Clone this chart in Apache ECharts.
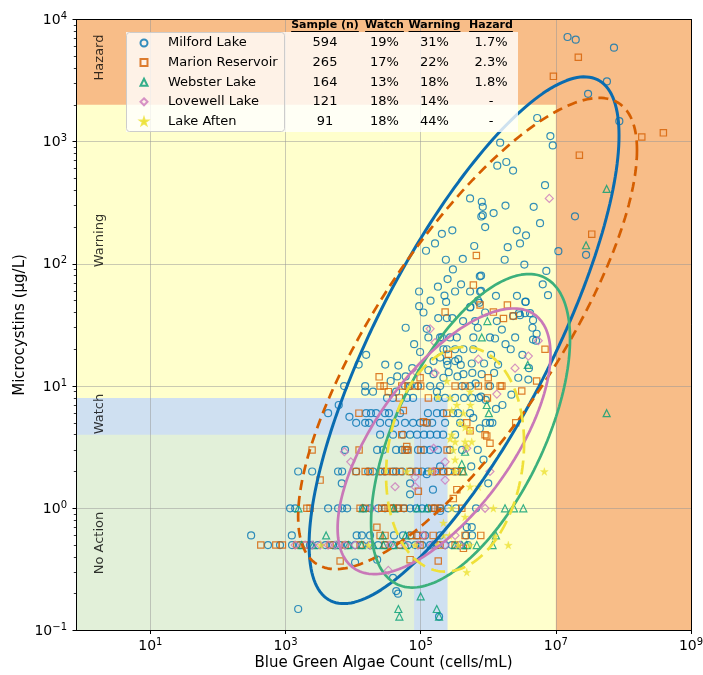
<!DOCTYPE html>
<html>
<head>
<meta charset="utf-8">
<script src="https://cdn.jsdelivr.net/npm/echarts@6/dist/echarts.min.js"></script>
<style>html,body{margin:0;padding:0;background:#fff}#c{width:703px;height:675px}</style>
</head>
<body>
<div id="c"></div>
<script>
// ---------------- DATA ----------------
const seriesNames = ['Milford Lake', 'Marion Reservoir', 'Webster Lake', 'Lovewell Lake', 'Lake Aften'];

// [cells/mL, µg/L]
const milford = [
[550,0.5],[830,0.5],[1250,0.5],[1640,0.5],[2300,0.5],[3000,0.5],[3900,0.5],[5000,0.5],[6400,0.5],[8400,0.5],[10700,0.5],[13600,0.5],[17800,0.5],[23500,0.5],[29700,0.5],[39000,0.5],[49500,0.5],[65000,0.5],[83000,0.5],[105000,0.5],[138000,0.5],[180000,0.5],[230000,0.5],[290000,0.5],[380000,0.5],[500000,0.5],
[310,0.6],[1240,0.6],[11300,0.6],[13500,0.6],[17800,0.6],[40300,0.6],[54800,0.6],[69700,0.6],[88400,0.6],[116000,0.6],[194000,0.6],[470000,0.6],[576000,0.6],
[1170,1],[1390,1],[4270,1],[6000,1],[6880,1],[8160,1],[14100,1],[17800,1],[23500,1],[29700,1],[39000,1],[46300,1],[56700,1],[69700,1],[85500,1],[105000,1],[128000,1],[158000,1],[194000,1],[255000,1],[334000,1],[660000,1],
[1540,2],[2480,2],[6000,2],[6880,2],[11100,2],[16700,2],[19700,2],[25100,2],[29700,2],[39000,2],[43300,2],[53000,2],[69700,2],[85500,2],[105000,2],[128000,2],[163000,2],[215000,2],[255000,2],[323000,2],
[7600,3],[22700,3],[27800,3],[43300,3],[53000,3],[62800,3],[91400,3],[112000,3],[138000,3],[180000,3],[272000,3],[410000,3],
[25100,4],[39000,4],[54800,4],[69700,4],[88400,4],[112000,4],[138000,4],[174000,4],[215000,4],[323000,4],
[11100,5],[15100,5],[17200,5],[25100,5],[34000,5],[41800,5],[58700,5],[77200,5],[98000,5],[124000,5],[148000,5],[230000,5],[383000,5],[1060000,5],
[4270,6],[15600,6],[18400,6],[21900,6],[29700,6],[34000,6],[49500,6],[128000,6],[174000,6],[215000,6],[302000,6],[358000,6],[538000,6],
[31800,8],[39000,8],[62800,8],[77200,8],[180000,8],[230000,8],[323000,8],[439000,8],[576000,8],[731000,8],
[15100,9],[19700,9],[43300,9],[174000,9],
[7370,10],[15100,10],[58700,10],[69700,10],[91400,10],[138000,10],[194000,10],[410000,10],[538000,10],[1060000,10],
[15600,18],[12100,15],[29900,15],[46800,14.7],[130000,25],[206000,25],[272000,25],[343000,25],[244000,20],[323000,20],[98000,19],[155000,16],[244000,16],[323000,16],[429000,12.5],[155000,12.5],[217000,11.7],[538000,44],[738000,48],[3580000,49],[182000,36],[244000,36],[294000,36],[424000,34],[638000,34],[1340000,34],[2850000,39.5],[3500000,39.5],[4150000,39.5],[123000,29.4],[194000,25],[602000,25],[1060000,25],[5200000,26.8],[5100000,23.5],[217000,20],[429000,20],[602000,20],[2150000,20],[194000,17.1],[361000,16.6],[249000,14.9],[392000,14.9],[570000,15.3],[867000,15.3],[581000,12.8],[1220000,12.8],[2780000,11.7],[3920000,11.3],
[1500000,980],[9000000,930],[1360000,636],[1850000,681],[2330000,580],[6920000,440],[538000,343],[802000,322],[830000,293],[790000,244],[4700000,293],[5840000,215],[206000,176],[163000,147],[294000,188],[120000,128],[236000,108],[2640000,188],[3620000,171],[2950000,147],[1940000,137],[1750000,108],[10900000,127],[3420000,98.6],[7230000,87.5],[6400000,68],[7660000,55.4],[94700,59.4],[225000,55],[238000,48.8],[323000,59.4],[396000,68],[538000,59.4],[750000,79],[757000,59.4],[545000,44.4],[1300000,54.7],[2660000,54.7],[3540000,48.8],[706000,50],
[14900000,7180],[19700000,6830],[72500000,5870],[57000000,3110],[30000000,2460],[87000000,1470],[5300000,1560],[8300000,1110],[830000,250],[19200000,245],[28000000,118.5],[783000,80],[783000,60],[2330000,37.4],[2950000,38],[4600000,34.6],[1590000,29],[1260000,24.5],[4600000,24],[920000,7.7],[1620000,7],[1150000,5],[920000,5],[783000,8.2],
[1540,0.15],[46300,0.2],[187000,0.13],[6800,1.6],[10700,0.36],[22700,0.38],[39000,0.27],[43500,0.21],[152000,1.42],[69700,1.3],[69700,1.6],[194000,0.95],[481000,0.7],[570000,0.7],[194000,2.2],[123000,1.9],[6130,7],[8820,5.6],
[60000,30],[80000,22],[75000,14],[110000,40],[95000,45],[140000,50],[180000,65],[250000,75],[300000,90],[420000,110],[620000,140],[900000,200],[1200000,260],[1800000,300],[700000,30],[900000,40],[1100000,18],[1400000,15],[1800000,22],[2500000,25],[3200000,18],[4000000,14],[4500000,30],[350000,12],[650000,10.5],[800000,12.5],[260000,13],[130000,13.5],[60000,12],[45000,12],[36000,11],[2200000,8.5],[1300000,6.5],[600000,5.5],[750000,4.5],[700000,3],[850000,2.5],[560000,2.2],[1000000,1.6]
];

const marion = [
[431,0.5],[719,0.5],[900,0.5],[1470,0.5],[1950,0.5],[4570,0.5],[7620,0.5],[12700,0.5],[29700,0.5],[49500,0.5],[98000,0.5],[194000,0.5],[323000,0.5],
[25100,0.6],[29700,0.6],[73900,0.6],[87500,0.6],[108000,0.6],[153000,0.6],[454000,0.6],[775000,0.6],
[6430,0.37],[69700,0.38],[182000,0.37],[429000,0.47],
[2070,1],[2310,1],[12700,1],[15100,1],[26600,1],[29700,1],[35200,1],[39400,1],[46800,1],[55400,1],[146000,1],[163000,1],[194000,1],[406000,1],
[3250,1.7],[22500,0.7],[92400,1.38],[343000,1.42],[304000,1.2],
[11070,2],[15100,2],[17800,2],[26900,2],[31800,2],[39000,2],[49500,2],[69700,2],[91400,2],[148000,2],[174000,2],[215000,2],[272000,2],[346000,2],[410000,2],
[2475,3],[12270,3],[58700,3],[65000,3],[101000,3],[246000,3],
[52500,4],[62200,3.2],[951000,3.9],[1060000,3.4],
[123000,5],[538000,4.3],[897000,4],
[12200,6],[55400,6.3],[244000,6],[481000,5],[110000,5.1],
[130000,8],
[25100,10],[28700,10],[33200,9],[52500,10],[65700,10],[82600,10],[100000,10],[323000,10],[454000,10],[714000,10],[1000000,10],[1500000,10],[3130000,9.1],
[24300,11.9],[48400,8],
[230000,40.3],[757000,46],[1920000,46],[1190000,40.3],[1680000,35.7],[2350000,37.4],[6920000,20],[5200000,11],[1000000,11.7],[257000,18.2],[98000,11.7],
[667000,117],[602000,67],
[21500000,4900],[9200000,3420],[187000000,1090],[390000000,1180],[22300000,775],[34000000,175],
[1590000,10],[971000,8],[2550000,5]
];

const webster = [
[1740,0.5],[2560,0.5],[5740,0.5],[8530,0.5],[13460,0.5],[20000,0.5],[28100,0.5],[39400,0.5],[60000,0.5],[150000,0.5],[323000,0.5],[406000,0.5],[481000,0.5],[676000,0.5],[1160000,0.5],
[3990,0.6],[27500,0.6],[60000,0.6],[1300000,0.6],
[1550,1],[13900,1],[40000,1],[90000,1],[123000,1],[1770000,1],[2400000,1],[3300000,1],
[429000,2],
[48400,0.13],[100000,0.19],[187000,0.13],[46800,0.15],[173000,0.15],
[56500000,410],[28000000,142],[56500000,6],[3840000,14.9],[1020000,6],[971000,34],[802000,25],[951000,7],[454000,2.9],[406000,2.3]
];

const lovewell = [
[1390,0.5],[1950,0.5],[2475,0.5],[3250,0.5],[4270,0.5],[5420,0.5],[7620,0.5],[10700,0.5],[17800,0.5],[35200,0.5],[58700,0.5],[91400,0.5],[148000,0.5],[230000,0.5],[383000,0.5],
[110000,0.6],[323000,0.6],
[18900,1],[897000,1],
[7440,2.9],[9250,2.4],[41800,1.5],[82600,1.5],[230000,1.7],[481000,3.1],[1060000,2],[163000,22.7],[87500,12.8],[714000,16.6],[1340000,8.6],[2490000,14],[3920000,17.6],[5500000,23.5],[138000,29.4],[163000,12.8],[155000,3.1],[230000,2.4],[82600,1.8],[8000000,343],[33200,0.31],[153000,2]
];

const aften = [
[3330,0.5],[16900,0.5],[82600,0.5],[182000,0.5],[361000,0.5],[538000,0.5],[1980000,0.5],
[217000,0.6],[266000,0.6],[1260000,0.59],
[288000,1],[1190000,1],
[62200,2],[323000,2],[138000,2],
[6760000,2],[538000,1.5],[714000,1.5],[454000,0.85],[217000,0.76],[481000,0.3],
[244000,11],[272000,8],[545000,7],[288000,6.3],[383000,5],[454000,4.6],[538000,4.3],[288000,4],[323000,3.5],[454000,3.5],[570000,3.5],[304000,3],[323000,2.5],[481000,3.2],[538000,9],[343000,7],[429000,6],[272000,3.7],[180000,8.1]
];

// Confidence ellipses in log10 space: centre and two conjugate semi-diameters (decades)
const ellipseCenter = [[5.642, 1.375], [5.694, 1.430], [5.738, 0.634], [5.346, 0.548], [5.509, 0.401]];
const ellipseAxisA  = [[2.293, 1.675], [2.507, 1.499], [1.472, 0.752], [1.575, 0.711], [1.021, 0.131]];
const ellipseAxisB  = [[0, 1.356], [0, 1.212], [0, 1.039], [0, 0.822], [0, 0.910]];

// Thresholds
const cellThresholds = [8e4, 2.5e5, 1e7];   // watch, warning, hazard (cells/mL)
const mcThresholds = [4, 8, 2000];          // watch, warning, hazard (µg/L)
const zoneColors = ['#e2f0d9', '#cfe0f1', '#ffffcc', '#f8bd88'];
const zoneLabels = [
  {name: 'Hazard', x: 1.8, y: 4880},
  {name: 'Warning', x: 1.8, y: 155},
  {name: 'Watch', x: 1.8, y: 5.9},
  {name: 'No Action', x: 1.8, y: 0.52}
];

// Tick exponents
const xTickExps = [1, 3, 5, 7, 9];
const minorSubs = [2, 3, 4, 5, 6, 7, 8, 9];

// Table
const tableHeaders = ['Sample (n)', 'Watch', 'Warning', 'Hazard'];
const tableRows = [
  ['594', '19%', '31%', '1.7%'],
  ['265', '17%', '22%', '2.3%'],
  ['164', '13%', '18%', '1.8%'],
  ['121', '18%', '14%', '-'],
  ['91', '18%', '44%', '-']
];

// ---------------- STYLE ----------------
const FONT = 'DejaVu Sans';
const markerColors = ['#0173B2', '#D55E00', '#029E73', '#CC78BC', '#ECE133'];
const lineColors = ['#0a6cb0', '#D55E00', '#3cb07c', '#c978b8', '#efe038'];
const STAR = 'path://M0,-1L0.2234,-0.3074L0.9511,-0.309L0.3614,0.1174L0.5878,0.809L0,0.38L-0.5878,0.809L-0.3614,0.1174L-0.9511,-0.309L-0.2234,-0.3074Z';
const DIAMOND = 'path://M0,-1L1,0L0,1L-1,0Z';
const symbols = ['circle', 'rect', 'triangle', DIAMOND, STAR];
const symSizes = [7, 6.3, 7, 8, 8];

const XMIN = -0.1, XMAX = 9, YMIN = -1, YMAX = 4;

const toLog = arr => arr.map(p => [Math.log10(p[0]), Math.log10(p[1])]);
const datasets = [milford, marion, webster, lovewell, aften];

function ellipsePoints(c, a, b) {
  const pts = [];
  const N = 200;
  for (let i = 0; i <= N; i++) {
    const t = 2 * Math.PI * i / N;
    pts.push([c[0] + a[0] * Math.cos(t) + b[0] * Math.sin(t),
              c[1] + a[1] * Math.cos(t) + b[1] * Math.sin(t)]);
  }
  return pts;
}

const lcx = cellThresholds.map(Math.log10), lcy = mcThresholds.map(Math.log10);
const zoneRects = [
  [XMIN, XMAX, YMIN, YMAX, 3],
  [XMIN, lcx[2], YMIN, lcy[2], 2],
  [XMIN, lcx[1], YMIN, lcy[1], 1],
  [XMIN, lcx[0], YMIN, lcy[0], 0]
];

const expStr = v => { const n = Math.round(v); return n < 0 ? '\u2212' + Math.abs(n) : String(n); };
const richLabel = {
  b: {fontSize: 14, fontFamily: FONT, color: '#000', lineHeight: 16, verticalAlign: 'bottom'},
  s: {fontSize: 10, fontFamily: FONT, color: '#000', lineHeight: 10, verticalAlign: 'top'}
};
const minorTicks = [];
for (let n = -1; n < 4; n++) minorSubs.forEach(k => minorTicks.push(n + Math.log10(k)));

const series = [];
series.push({
  type: 'custom', name: 'zones', z: -1, silent: true, clip: true,
  data: zoneRects,
  encode: {x: [0, 1], y: [2, 3]},
  renderItem: (params, api) => {
    const p0 = api.coord([api.value(0), api.value(3)]);
    const p1 = api.coord([api.value(1), api.value(2)]);
    return {type: 'rect', shape: {x: p0[0], y: p0[1], width: p1[0] - p0[0], height: p1[1] - p0[1]},
            style: {fill: zoneColors[api.value(4)]}};
  }
});
series.push({
  type: 'scatter', name: 'zoneLabels', silent: true, z: 1,
  symbolSize: 1, itemStyle: {color: 'rgba(0,0,0,0)'},
  data: zoneLabels.map(d => ({name: d.name, value: [Math.log10(d.x), Math.log10(d.y)]})),
  label: {show: true, position: 'inside', rotate: 90, formatter: p => p.name,
          fontFamily: FONT, fontSize: 13, color: '#000'}
});
datasets.forEach((d, i) => {
  series.push({
    type: 'scatter', name: seriesNames[i], z: 3,
    symbol: symbols[i], symbolSize: symSizes[i],
    itemStyle: i === 4 ? {color: markerColors[i], borderColor: markerColors[i], borderWidth: 0.3}
                       : {color: 'rgba(255,255,255,0)', borderColor: markerColors[i], borderWidth: 1.2},
    data: toLog(d)
  });
});
const dashes = [null, [10, 6], null, null, [14, 7]];
ellipseCenter.forEach((c, i) => {
  series.push({
    type: 'line', name: seriesNames[i] + ' ellipse', z: 5, silent: true,
    showSymbol: false, symbol: 'none', smooth: false,
    lineStyle: {color: lineColors[i], width: i === 0 ? 3 : 2.7, type: dashes[i] || 'solid'},
    data: ellipsePoints(c, ellipseAxisA[i], ellipseAxisB[i])
  });
});

// table graphics
const measure = (() => {
  const ctx = document.createElement('canvas').getContext('2d');
  return (txt, font) => { ctx.font = font; return ctx.measureText(txt).width; };
})();
const colX = [325, 384.5, 434.5, 491];
const headY = 25, row0 = 43, rowStep = 19.6;
const graphics = [
  {type: 'rect', z: 15, silent: true, shape: {x: 126, y: 32, width: 392, height: 100},
   style: {fill: 'rgba(255,255,255,0.8)'}},
  {type: 'rect', z: 16, silent: true, shape: {x: 126.5, y: 32.5, width: 158, height: 99, r: 3},
   style: {fill: 'none', stroke: 'rgba(200,200,200,0.9)', lineWidth: 1}}
];
tableHeaders.forEach((h, j) => {
  const w = measure(h, 'bold 11px "' + FONT + '"');
  graphics.push({type: 'text', z: 17, silent: true, x: colX[j], y: headY,
    style: {text: h, font: 'bold 11px "' + FONT + '"', fill: '#000', align: 'center', verticalAlign: 'middle'}});
  graphics.push({type: 'line', z: 17, silent: true,
    shape: {x1: colX[j] - w / 2, y1: headY + 6.5, x2: colX[j] + w / 2, y2: headY + 6.5},
    style: {stroke: '#000', lineWidth: 1}});
});
tableRows.forEach((r, i) => {
  r.forEach((t, j) => {
    graphics.push({type: 'text', z: 17, silent: true, x: colX[j], y: row0 + i * rowStep,
      style: {text: t, font: '13px "' + FONT + '"', fill: '#000', align: 'center', verticalAlign: 'middle'}});
  });
});

const gridColor = 'rgba(150,150,150,0.5)';
const option = {
  animation: false,
  backgroundColor: '#fff',
  textStyle: {fontFamily: FONT},
  grid: {left: 76, right: 12, top: 19.4, bottom: 44.5, containLabel: false, outerBoundsMode: 'none'},
  legend: {
    data: seriesNames, orient: 'vertical', left: 126, top: 32,
    padding: [4, 6, 3, 13.5], itemWidth: 7, itemHeight: 7, itemGap: 5.6,
    selectedMode: false, z: 20, symbolKeepAspect: true,
    textStyle: {fontFamily: FONT, fontSize: 13, color: '#000', lineHeight: 14, padding: [0, 0, 0, 15.5]}
  },
  xAxis: [{
    type: 'value', min: XMIN, max: XMAX, position: 'bottom',
    name: 'Blue Green Algae Count (cells/mL)', nameLocation: 'middle', nameGap: 25, nameMoveOverlap: false,
    nameTextStyle: {fontFamily: FONT, fontSize: 15, color: '#000'},
    axisLine: {show: true, onZero: false, lineStyle: {color: '#000', width: 1}},
    axisTick: {show: true, inside: false, customValues: xTickExps, length: 3.5, lineStyle: {color: '#000', width: 1}},
    axisLabel: {show: true, customValues: xTickExps, margin: 7, showMinLabel: true, showMaxLabel: true,
                formatter: v => '{b|10}{s|' + expStr(v) + '}', rich: richLabel},
    splitLine: {show: true, lineStyle: {color: gridColor, width: 1}}
  }, {
    type: 'value', min: XMIN, max: XMAX, position: 'top',
    axisLine: {show: true, onZero: false, lineStyle: {color: '#000', width: 1}},
    axisTick: {show: false}, axisLabel: {show: false}, splitLine: {show: false}
  }],
  yAxis: [{
    type: 'value', min: YMIN, max: YMAX, interval: 1, position: 'left',
    name: 'Microcystins (\u00b5g/L)', nameLocation: 'middle', nameGap: 48.5, nameMoveOverlap: false,
    nameTextStyle: {fontFamily: FONT, fontSize: 15, color: '#000'},
    axisLine: {show: true, onZero: false, lineStyle: {color: '#000', width: 1}},
    axisTick: {show: true, inside: false, length: 3.5, lineStyle: {color: '#000', width: 1}},
    axisLabel: {show: true, margin: 9, showMinLabel: true, showMaxLabel: true,
                formatter: v => '{b|10}{s|' + expStr(v) + '}', rich: richLabel},
    splitLine: {show: true, lineStyle: {color: gridColor, width: 1}}
  }, {
    type: 'value', min: YMIN, max: YMAX, position: 'left', offset: 0,
    axisLine: {show: false, onZero: false},
    axisTick: {show: true, inside: false, customValues: minorTicks, length: 2.2, lineStyle: {color: '#000', width: 0.8}},
    axisLabel: {show: false}, splitLine: {show: false}
  }, {
    type: 'value', min: YMIN, max: YMAX, position: 'right',
    axisLine: {show: true, onZero: false, lineStyle: {color: '#000', width: 1}},
    axisTick: {show: false}, axisLabel: {show: false}, splitLine: {show: false}
  }],
  graphic: {elements: graphics},
  series: series
};

const chart = echarts.init(document.getElementById('c'), null, {renderer: 'canvas'});
chart.setOption(option);
</script>
</body>
</html>
